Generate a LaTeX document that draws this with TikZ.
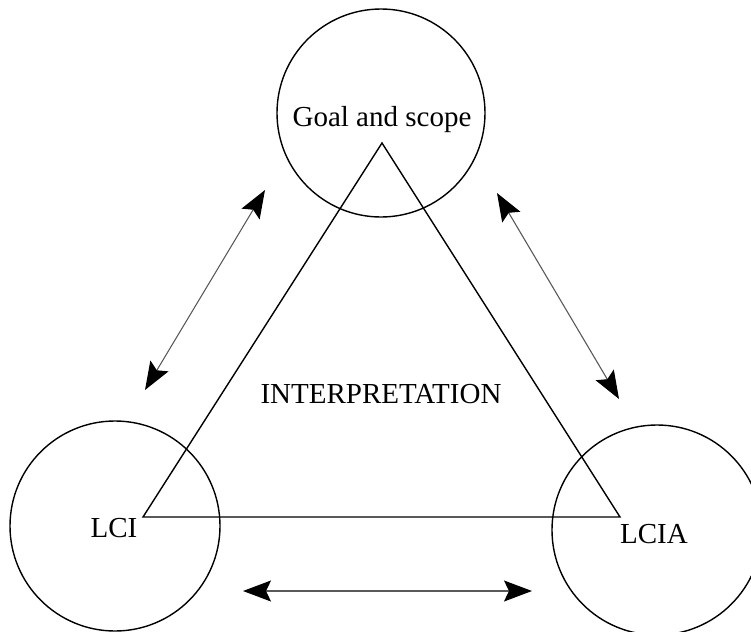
\documentclass[tikz,border=0pt]{standalone}
\usepackage{fontspec}
\setmainfont{Liberation Serif}
\usetikzlibrary{arrows.meta}
\begin{document}
\begin{tikzpicture}[x=0.5pt,y=-0.5pt,
  ring/.style={draw, circle, line width=0.7pt, inner sep=0pt, minimum size=#1},
  lbl/.style={anchor=base, font=\fontsize{14.5}{17}\selectfont, inner sep=0pt},
  tri/.style={line width=0.7pt, line join=miter},
  dbl/.style={line width=0.55pt, draw=black!65, {Stealth[length=14pt,width=10.5pt,inset=2.5pt,color=black]}-{Stealth[length=14pt,width=10.5pt,inset=2.5pt,color=black]}}]
\useasboundingbox (0,0) rectangle (751,632);
% circles
\node[ring=104pt] (gs) at (381,113) {};
\node[ring=105pt] (lci) at (115,526) {};
\node[ring=105pt] (lcia) at (657,530) {};
% labels
\node[lbl] (gst) at (382,126) {Goal and scope};
\node[lbl] (lcit) at (114,537) {LCI};
\node[lbl] (lciat) at (654,543) {LCIA};
\node[lbl] (interp) at (381,403) {INTERPRETATION};
% triangle
\coordinate (ta) at (382,143);
\coordinate (tl) at (143,517);
\coordinate (tr) at (620,517);
\draw[tri] (ta) -- (tl) -- (tr) -- cycle;
% arrows
\coordinate (a1s) at (145,390);
\coordinate (a1e) at (265,190);
\coordinate (a2s) at (497,193);
\coordinate (a2e) at (619,399);
\coordinate (a3s) at (243,591);
\coordinate (a3e) at (532,591);
\draw[dbl] (a1s) -- (a1e);
\draw[dbl] (a2s) -- (a2e);
\draw[dbl] (a3s) -- (a3e);
\end{tikzpicture}
\end{document}
